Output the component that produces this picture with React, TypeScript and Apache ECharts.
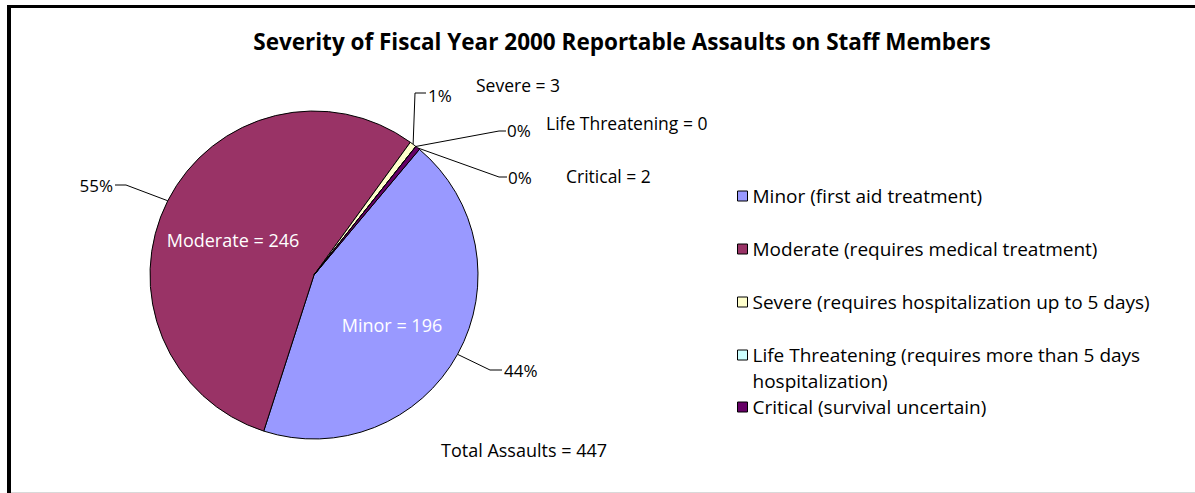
import React, { useEffect, useRef } from 'react';
import * as echarts from 'echarts';

const TITLE = 'Severity of Fiscal Year 2000 Reportable Assaults on Staff Members';
const categories = ['Minor', 'Moderate', 'Severe', 'Life Threatening', 'Critical'];
const legendNames = [
  'Minor (first aid treatment)',
  'Moderate (requires medical treatment)',
  'Severe (requires hospitalization up to 5 days)',
  'Life Threatening (requires more than 5 days hospitalization)',
  'Critical (survival uncertain)',
];
const counts = [196, 246, 3, 0, 2];
const colors = ['#9999FF', '#993366', '#FFFFCC', '#CCFFFF', '#660066'];
const TOTAL_LABEL = 'Total Assaults';

const FONT = "'Open Sans', 'DejaVu Sans', sans-serif";

// layout (positions only)
const pctLayout = [
  { x: 504, y: 370, align: 'left', knee: [490, 370], end: [502, 370] },
  { x: 113, y: 185, align: 'right', knee: [126, 185], end: [115, 185] },
  { x: 428, y: 95, align: 'left', knee: [415, 93], end: [426, 93] },
  { x: 507, y: 130, align: 'left', knee: [499, 131], end: [506, 131] },
  { x: 508, y: 177, align: 'left', knee: [499, 177], end: [507, 177] },
];
const nameLayout = [
  { x: 392, y: 325, align: 'center' },
  { x: 233, y: 240, align: 'center' },
  { x: 476, y: 85, align: 'left' },
  { x: 546, y: 123, align: 'left' },
  { x: 566, y: 176, align: 'left' },
];
const nameLabelStyles = [
  { color: '#ffffff', fontSize: 18 },
  { color: '#ffffff', fontSize: 18 },
  { color: '#000000', fontSize: 17.5 },
  { color: '#000000', fontSize: 17.5 },
  { color: '#000000', fontSize: 17.5 },
];

const WRAP = 47;
function wrap(s: string): string {
  if (s.length <= WRAP) return s;
  const cut = s.lastIndexOf(' ', WRAP);
  return s.slice(0, cut) + '\n' + s.slice(cut + 1);
}

const legendBase = {
  orient: 'vertical',
  left: 737,
  padding: 0,
  itemWidth: 10,
  itemHeight: 10,
  itemGap: 30,
  icon: 'rect',
  selectedMode: false,
  textStyle: { fontFamily: FONT, fontSize: 19, color: '#000', lineHeight: 23 },
  itemStyle: { borderColor: '#000', borderWidth: 1 },
  formatter: (n: string) => wrap(n),
};

export default function App() {
  const ref = useRef<HTMLDivElement>(null);
  useEffect(() => {
    if (!ref.current) return;
    const chart = echarts.init(ref.current, null, { renderer: 'svg' });
    const total = counts.reduce((a, b) => a + b, 0);
    const option: any = {
      animation: false,
      backgroundColor: '#ffffff',
      title: {
        text: TITLE,
        left: 617,
        textAlign: 'center',
        top: 25,
        textStyle: { fontFamily: FONT, fontSize: 22.5, fontWeight: 'bold', color: '#000' },
      },
      legend: [
        { ...legendBase, top: 184.5, data: legendNames.slice(0, 3) },
        {
          ...legendBase,
          top: 342,
          itemHeight: 36,
          icon: 'path://M0,0h10v10h-10zM0,36h0',
          textStyle: { ...legendBase.textStyle, lineHeight: 26 },
          data: legendNames.slice(3, 4),
        },
        { ...legendBase, top: 395.5, data: legendNames.slice(4) },
      ],
      graphic: [
        { type: 'line', shape: { x1: 9, y1: 5, x2: 9, y2: 493 }, style: { stroke: '#000', lineWidth: 4 } },
        { type: 'line', shape: { x1: 7, y1: 6.5, x2: 1195, y2: 6.5 }, style: { stroke: '#000', lineWidth: 3 } },
        { type: 'line', shape: { x1: 11, y1: 492.5, x2: 1195, y2: 492.5 }, style: { stroke: '#d9d9d9', lineWidth: 1 } },
        {
          type: 'text',
          x: 441,
          y: 450,
          style: {
            text: `${TOTAL_LABEL} = ${total}`,
            fontFamily: FONT,
            fontSize: 18,
            fill: '#000',
            verticalAlign: 'middle',
          },
        },
      ],
      series: [
        {
          type: 'pie',
          center: [314, 275],
          radius: 164,
          startAngle: 50,
          clockwise: true,
          avoidLabelOverlap: false,
          emphasis: { disabled: true },
          itemStyle: { borderColor: '#000', borderWidth: 1 },
          label: {
            show: true,
            position: 'outside',
            fontFamily: FONT,
            fontSize: 17,
            color: '#000',
            formatter: (p: any) => `${Math.round(p.percent)}%`,
          },
          labelLine: { show: true, length: 10, length2: 10, lineStyle: { color: '#000', width: 1 } },
          labelLayout: (p: any) => {
            const L = pctLayout[p.dataIndex];
            const start = p.labelLinePoints && p.labelLinePoints[0] ? p.labelLinePoints[0] : L.knee;
            return {
              x: L.x,
              y: L.y,
              align: L.align,
              verticalAlign: 'middle',
              labelLinePoints: [start, L.knee, L.end],
            };
          },
          data: categories.map((c, i) => ({ name: legendNames[i], value: counts[i], itemStyle: { color: colors[i] } })),
        },
        {
          type: 'pie',
          center: [314, 275],
          radius: 164,
          startAngle: 50,
          clockwise: true,
          silent: true,
          avoidLabelOverlap: false,
          emphasis: { disabled: true },
          itemStyle: { color: 'rgba(0,0,0,0)', borderWidth: 0 },
          label: {
            show: true,
            position: 'outside',
            fontFamily: FONT,
            formatter: (p: any) => `${categories[p.dataIndex]} = ${p.value}`,
          },
          labelLine: { show: false },
          labelLayout: (p: any) => {
            const L = nameLayout[p.dataIndex];
            return { x: L.x, y: L.y, align: L.align, verticalAlign: 'middle' };
          },
          data: categories.map((c, i) => ({
            name: legendNames[i],
            value: counts[i],
            label: { ...nameLabelStyles[i] },
          })),
        },
      ],
    };
    chart.setOption(option);
    return () => chart.dispose();
  }, []);
  return (
    <div
      ref={ref}
      style={{ position: 'absolute', left: 0, top: 0, width: 1195, height: 493 }}
    />
  );
}
